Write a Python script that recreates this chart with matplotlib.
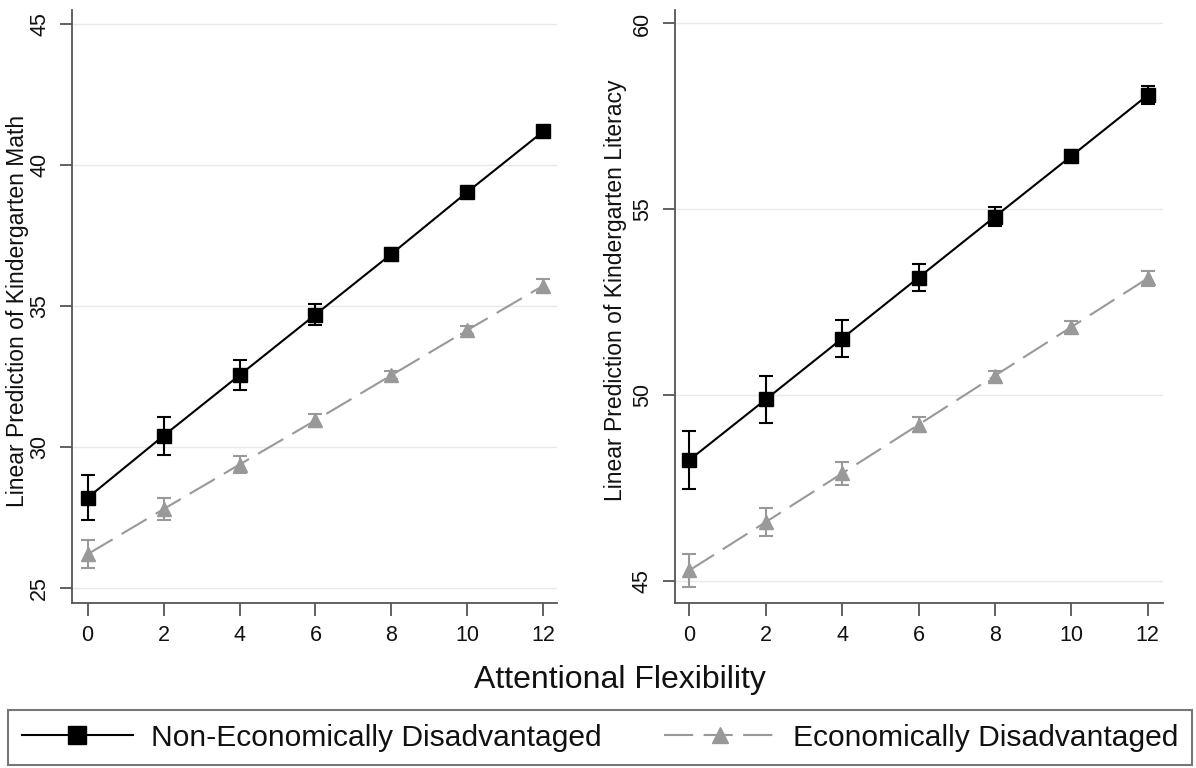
import matplotlib
matplotlib.use("Agg")
import matplotlib.pyplot as plt
from matplotlib.lines import Line2D

plt.rcParams['font.family'] = ['Liberation Sans', 'DejaVu Sans']

# dados
flex = [0, 2, 4, 6, 8, 10, 12]

math_non = [28.2, 30.4, 32.55, 34.7, 36.85, 39.05, 41.2]
math_non_err = [0.8, 0.67, 0.53, 0.36, 0.2, 0.17, 0.2]
math_eco = [26.2, 27.8, 29.38, 30.95, 32.55, 34.15, 35.73]
math_eco_err = [0.5, 0.4, 0.3, 0.22, 0.15, 0.15, 0.22]

lit_non = [48.25, 49.88, 51.52, 53.16, 54.8, 56.43, 58.07]
lit_non_err = [0.77, 0.63, 0.5, 0.36, 0.25, 0.17, 0.25]
lit_eco = [45.28, 46.58, 47.89, 49.2, 50.52, 51.83, 53.14]
lit_eco_err = [0.45, 0.37, 0.3, 0.2, 0.13, 0.15, 0.2]

math_ticks = [25, 30, 35, 40, 45]
lit_ticks = [45, 50, 55, 60]
x_ticks = [0, 2, 4, 6, 8, 10, 12]

label_non = "Non-Economically Disadvantaged"
label_eco = "Economically Disadvantaged"

gray = '#999999'
dash = (0, (14, 5))

fig = plt.figure(figsize=(11.96, 7.68), dpi=100)
ax1 = fig.add_axes([0.0605, 0.2152, 0.4053, 0.7717])
ax2 = fig.add_axes([0.5644, 0.2152, 0.4080, 0.7717])


def painel(ax, non, non_err, eco, eco_err, ticks, ylim, xlim, ylabel, lab_xy):
    ax.errorbar(flex, non, yerr=non_err, fmt='s', linestyle='-', color='black',
                lw=1.5, ms=10.5, capsize=5, elinewidth=1.5, capthick=1.5, zorder=4)
    ax.errorbar(flex, eco, yerr=eco_err, fmt='^', linestyle=dash, color=gray,
                lw=1.5, ms=10, capsize=5, elinewidth=1.5, capthick=1.5, zorder=3)
    ax.set_ylim(*ylim)
    ax.set_xlim(*xlim)
    ax.set_yticks(ticks)
    ax.set_xticks(x_ticks)
    for t in ticks:
        ax.axhline(t, color='#e9e9e9', lw=1, zorder=0)
    for s in ['top', 'right']:
        ax.spines[s].set_visible(False)
    for s in ['left', 'bottom']:
        ax.spines[s].set_color('#555555')
        ax.spines[s].set_linewidth(1.3)
    ax.tick_params(axis='both', length=9, width=1.3, color='#555555',
                   labelsize=15.5, pad=7, labelcolor='#111111')
    ax.tick_params(axis='y', labelrotation=90)
    for lb in ax.get_yticklabels():
        lb.set_verticalalignment('center')
    ax.set_ylabel(ylabel, fontsize=16.5, color='#111111')
    ax.yaxis.label.set_va('center')
    ax.yaxis.set_label_coords(*lab_xy)


painel(ax1, math_non, math_non_err, math_eco, math_eco_err, math_ticks,
       (24.48, 45.5), (-0.4, 12.36), "Linear Prediction of Kindergarten Math", (-0.114, 0.492))
painel(ax2, lit_non, lit_non_err, lit_eco, lit_eco_err, lit_ticks,
       (44.41, 60.36), (-0.374, 12.4), "Linear Prediction of Kindergarten Literacy", (-0.121, 0.528))

fig.text(0.518, 0.104, "Attentional Flexibility", ha='center', va='baseline',
         fontsize=23, color='#111111')

h1 = Line2D([], [], color='black', lw=1.5, marker='s', ms=13)
h2 = Line2D([], [], color=gray, lw=1.5, linestyle=dash, marker='^', ms=12)
leg = fig.legend([h1, h2], [label_non, label_eco], loc='center',
                 bbox_to_anchor=(0.0067, 0.0026, 0.990, 0.0742), mode='expand',
                 ncol=2, fontsize=21.6, frameon=True, fancybox=False,
                 handlelength=3.7, handletextpad=0.6, borderpad=0.45,
                 borderaxespad=0)
leg.get_frame().set_edgecolor('#555555')
leg.get_frame().set_linewidth(1.5)
for t in leg.get_texts():
    t.set_color('#111111')

fig.savefig("out.png", dpi=100)
